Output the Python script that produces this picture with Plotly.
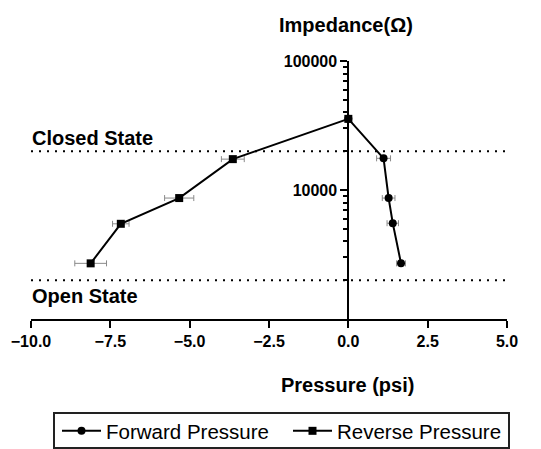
import plotly.graph_objects as go

# Data
fwd_x = [0.0, 1.11, 1.27, 1.40, 1.66]
fwd_y = [35600, 17600, 8660, 5530, 2700]
fwd_err = [0.0, 0.22, 0.20, 0.18, 0.14]

rev_x = [0.0, -3.64, -5.33, -7.17, -8.12]
rev_y = [35600, 17350, 8660, 5470, 2700]
rev_err = [0.0, 0.36, 0.46, 0.26, 0.50]

state_x = [-10, 5]
closed_level = 20000
open_level = 2000

x_ticks = [-10.0, -7.5, -5.0, -2.5, 0.0, 2.5, 5.0]
y_ticks = [10000, 100000]
y_minor = [2000, 3000, 4000, 5000, 6000, 7000, 8000, 9000,
           20000, 30000, 40000, 50000, 60000, 70000, 80000, 90000]

FONT = "Liberation Sans, Arial, Helvetica, sans-serif"

# plot-area pixel geometry used to place paper-referenced items
L, R, T, B, W, H = 31, 34, 61, 130, 541, 449
PW, PH = W - L - R, H - T - B


def px(x):
    return (x - L) / PW


def py(y):
    return (H - B - y) / PH


fig = go.Figure()

# dotted state lines
for lvl in (closed_level, open_level):
    fig.add_trace(go.Scatter(
        x=state_x, y=[lvl, lvl], mode="lines",
        line=dict(color="black", width=2, dash="2px,6px"),
        showlegend=False, hoverinfo="skip"))

fig.add_trace(go.Scatter(
    x=fwd_x, y=fwd_y, mode="lines+markers", name="Forward Pressure",
    line=dict(color="black", width=2), legend="legend",
    marker=dict(symbol="circle", size=8, color="black"),
    error_x=dict(type="data", array=fwd_err, color="#8a8a8a", thickness=1, width=3)))

fig.add_trace(go.Scatter(
    x=rev_x, y=rev_y, mode="lines+markers", name="Reverse Pressure",
    line=dict(color="black", width=2), legend="legend2",
    marker=dict(symbol="square", size=8, color="black"),
    error_x=dict(type="data", array=rev_err, color="#8a8a8a", thickness=1, width=3)))

leg_common = dict(orientation="h", yanchor="top", xanchor="left",
                  borderwidth=0, bgcolor="rgba(0,0,0,0)",
                  font=dict(size=20.5, family=FONT), itemwidth=39)

fig.update_layout(
    width=W, height=H,
    margin=dict(l=L, r=R, t=T, b=B, autoexpand=False),
    paper_bgcolor="white", plot_bgcolor="white",
    font=dict(family=FONT, color="black"),
    xaxis=dict(
        range=[-10, 5], tickvals=x_ticks, tickformat=".1f",
        showgrid=False, zeroline=False, automargin=False,
        showline=True, linecolor="black", linewidth=2,
        ticks="outside", ticklen=7, tickwidth=2, tickcolor="black",
        tickfont=dict(size=16, weight="bold", family=FONT),
    ),
    yaxis=dict(
        type="log", range=[3, 5], tickvals=y_ticks,
        ticktext=[str(v) for v in y_ticks],
        anchor="free", position=10 / 15, automargin=False,
        showgrid=False, zeroline=False,
        showline=True, linecolor="black", linewidth=2,
        ticks="outside", ticklen=7, tickwidth=2, tickcolor="black",
        tickfont=dict(size=16, weight="bold", family=FONT),
        minor=dict(tickvals=y_minor, ticks="outside", ticklen=4,
                   tickwidth=2, tickcolor="black", showgrid=False),
    ),
    showlegend=True,
    legend=dict(x=px(57), y=py(411), **leg_common),
    legend2=dict(x=px(288), y=py(411), **leg_common),
    shapes=[dict(type="rect", xref="paper", yref="paper",
                 x0=px(54), x1=px(509), y0=py(413), y1=py(448),
                 line=dict(color="#222", width=2), fillcolor="rgba(0,0,0,0)",
                 layer="below")],
    annotations=[
        dict(text="Impedance(Ω)", xref="paper", yref="paper", x=px(346), y=py(25),
             xanchor="center", yanchor="middle", showarrow=False,
             font=dict(size=20, weight="bold", family=FONT)),
        dict(text="Pressure (psi)", xref="paper", yref="paper", x=px(347), y=py(385),
             xanchor="center", yanchor="middle", showarrow=False,
             font=dict(size=20, weight="bold", family=FONT)),
        dict(text="Closed State", xref="paper", yref="paper", x=px(30), y=py(138),
             xanchor="left", yanchor="middle", showarrow=False,
             font=dict(size=20, weight="bold", family=FONT)),
        dict(text="Open State", xref="paper", yref="paper", x=px(30), y=py(296),
             xanchor="left", yanchor="middle", showarrow=False,
             font=dict(size=20, weight="bold", family=FONT)),
    ],
)

fig.write_html("out.html")
